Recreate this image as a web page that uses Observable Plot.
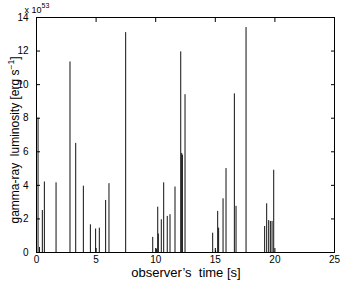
<!DOCTYPE html>
<html><head><meta charset="utf-8">
<script src="https://cdn.jsdelivr.net/npm/d3@7"></script>
<script src="https://cdn.jsdelivr.net/npm/@observablehq/plot@0.6"></script>
<style>body{margin:0;background:#fff}svg{display:block}</style>
</head><body><div id="chart"></div>
<script>
const times = [0.13,0.25,0.49,0.66,1.64,2.81,3.29,3.93,4.52,4.96,5.27,5.8,6.08,7.48,
  9.75,10.08,10.17,10.22,10.47,10.67,10.97,11.2,11.62,12.1,12.18,12.24,12.46,
  14.78,15.03,15.2,15.28,15.65,15.9,16.6,16.74,17.58,19.14,19.31,19.48,19.62,19.76,19.9];
const lum = [8.0,0.3,2.5,4.2,4.15,11.35,6.5,3.95,1.65,1.4,1.45,3.1,4.1,13.1,
  0.9,0.2,2.7,1.1,1.95,4.15,2.15,2.25,3.9,11.95,5.9,5.8,9.4,
  1.15,0.1,2.45,1.45,3.2,5.0,9.45,2.75,13.4,1.55,2.9,1.9,1.85,1.85,4.9];
const xTicks = [0,5,10,15,20,25];
const yTicks = [0,2,4,6,8,10,12,14];
const data = times.map((t,i)=>({t, v: lum[i]}));
const font = "Liberation Sans, Arial, Helvetica, sans-serif";
const blank = () => "";
const chart = Plot.plot({
  width: 343, height: 281,
  marginLeft: 36, marginRight: 9, marginTop: 17, marginBottom: 29,
  style: {fontFamily: font, fontSize: "10px", color: "#000", background: "#fff"},
  x: {domain: [0,25]},
  y: {domain: [0,14]},
  marks: [
    Plot.ruleX(data, {x: "t", y1: 0, y2: "v", stroke: "#111", strokeWidth: 1}),
    Plot.frame({stroke: "#000", strokeWidth: 1}),
    Plot.axisX(xTicks, {anchor: "bottom", tickSize: 0, tickPadding: 3, label: null}),
    Plot.axisX(xTicks, {anchor: "bottom", tickSize: -4, tickFormat: blank, label: null}),
    Plot.axisX(xTicks, {anchor: "top", tickSize: -4, tickFormat: blank, label: null}),
    Plot.axisY(yTicks, {anchor: "left", tickSize: 0, tickPadding: 8, label: null}),
    Plot.axisY(yTicks, {anchor: "left", tickSize: -4, tickFormat: blank, label: null}),
    Plot.axisY(yTicks, {anchor: "right", tickSize: -4, tickFormat: blank, label: null})
  ]
});
const svg = d3.select(chart);
svg.append("text").attr("x", 186).attr("y", 277).attr("text-anchor", "middle")
  .attr("font-family", font).attr("font-size", 13).text("observer\u2019s  time [s]");
const yl = svg.append("text").attr("transform", "translate(19,140) rotate(-90)")
  .attr("text-anchor", "middle").attr("font-family", font).attr("font-size", 12);
yl.append("tspan").text("gamma-ray  luminosity [erg s");
yl.append("tspan").attr("dy", -5).attr("font-size", 8.5).text("\u22121");
yl.append("tspan").attr("dy", 5).text("]");
const ex = svg.append("text").attr("x", 37).attr("y", 13).attr("font-family", font).attr("font-size", 9);
ex.append("tspan").text("x 10");
ex.append("tspan").attr("dy", -5).attr("font-size", 7).text("53");
document.getElementById("chart").append(chart);
</script></body></html>
